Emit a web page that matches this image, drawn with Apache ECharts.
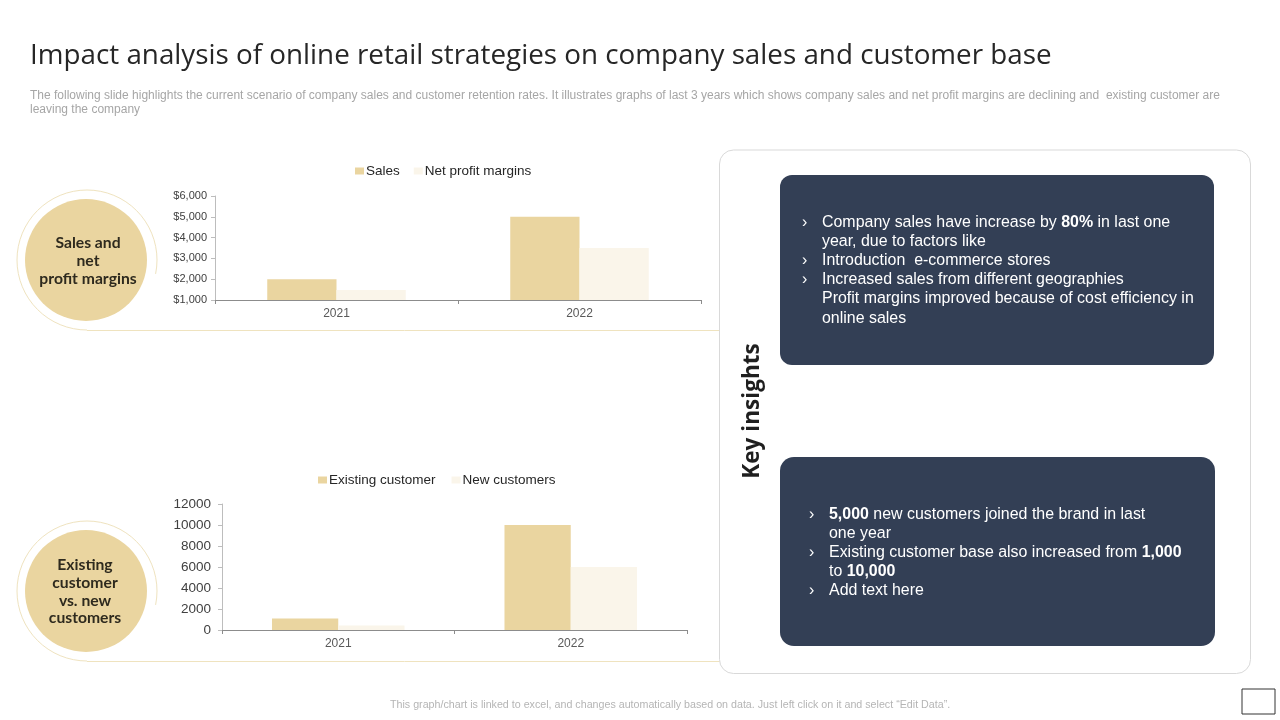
<!DOCTYPE html>
<html><head><meta charset="utf-8">
<script src="https://cdn.jsdelivr.net/npm/echarts@6/dist/echarts.min.js"></script>
<style>html,body{margin:0;padding:0;background:#fff}#c{width:1280px;height:720px}</style>
</head><body><div id="c"></div>
<script>
const years = ['2021', '2022'];
const sales = [2000, 5000];
const netProfit = [1480, 3500];
const existingCustomers = [1100, 10000];
const newCustomers = [430, 6000];

const titleText = 'Impact analysis of online retail strategies on company sales and customer base';
const introLines = [
  'The following slide highlights the current scenario of company sales and customer retention rates. It illustrates graphs of last 3 years which shows company sales and net profit margins are declining and  existing customer are',
  'leaving the company'
];
const footerText = 'This graph/chart is linked to excel, and changes automatically based on data. Just left click on it and select \u201CEdit Data\u201D.';
const label1 = ['Sales and', 'net', 'profit margins'];
const label2 = ['Existing', 'customer', 'vs. new', 'customers'];
const insights1 = [
  ['\u203A', 'Company sales have increase by {b|80%} in last one', 223],
  ['', 'year, due to factors like', 242],
  ['\u203A', 'Introduction  e-commerce stores', 261],
  ['\u203A', 'Increased sales from different geographies', 280],
  ['', 'Profit margins improved because of cost efficiency in', 299],
  ['', 'online sales', 319]
];
const insights2 = [
  ['\u203A', '{b|5,000} new customers joined the brand in last', 515],
  ['', 'one year', 534],
  ['\u203A', 'Existing customer base also increased from {b|1,000}', 553],
  ['', 'to {b|10,000}', 572],
  ['\u203A', 'Add text here', 591]
];

const GOLD = '#ead5a0', PALE = '#faf5ea', LINE = '#efe3bf', NAVY = '#333f55';
const SANS = '"Liberation Sans", Arial, sans-serif';
const HEAD = 'Lato, "Open Sans", sans-serif';

function txt(x, y, text, fontSize, fill, extra) {
  return { type: 'text', x: x, y: y, z: 10, silent: true,
    style: Object.assign({ text: text, fontSize: fontSize, fill: fill, fontFamily: SANS,
      align: 'left', verticalAlign: 'middle' }, extra || {}) };
}
function badge(cy, cx, lines, ys) {
  const out = [
    { type: 'arc', z: 1, silent: true, shape: { cx: 87, cy: cy, r: 70, startAngle: Math.PI / 2, endAngle: 0.2, clockwise: true },
      style: { fill: null, stroke: LINE, lineWidth: 1 } },
    { type: 'line', z: 1, silent: true, shape: { x1: 87, y1: cy + 70.5, x2: 722, y2: cy + 70.5 }, style: { stroke: LINE, lineWidth: 1 } },
    { type: 'circle', z: 2, silent: true, shape: { cx: 86, cy: cy, r: 61 }, style: { fill: GOLD } }
  ];
  lines.forEach((l, i) => out.push(txt(cx, ys[i], l, 15.7, '#2e2a1e',
    { align: 'center', fontFamily: HEAD, fontWeight: 'bold' })));
  return out;
}
function insightLines(rows, xBullet, xText, size) {
  const out = [];
  rows.forEach(r => {
    if (r[0]) out.push(txt(xBullet, r[2], r[0], size, '#ffffff'));
    out.push(txt(xText, r[2], r[1], size, '#ffffff',
      { rich: { b: { fontWeight: 'bold', fontSize: size, fill: '#ffffff', fontFamily: SANS } } }));
  });
  return out;
}

const graphicEls = [].concat(
  [txt(30, 56, titleText, 27.8, '#262626', { fontFamily: '"Open Sans", sans-serif' }),
   txt(30, 96, introLines[0], 12, '#a6a6a6'),
   txt(30, 110, introLines[1], 12, '#a6a6a6'),
   txt(390, 705, footerText, 10.7, '#b5b5b5')],
  badge(260, 88, label1, [243, 261, 279]),
  badge(591, 85, label2, [565, 583, 601, 618]),
  [{ type: 'rect', z: 3, silent: true, shape: { x: 719.5, y: 150, width: 531, height: 523.5, r: 14 },
     style: { fill: '#fff', stroke: '#d9d9d9', lineWidth: 1 } },
   { type: 'rect', z: 4, silent: true, shape: { x: 780, y: 175, width: 434, height: 190, r: 12 }, style: { fill: NAVY } },
   { type: 'rect', z: 4, silent: true, shape: { x: 780, y: 457, width: 435, height: 189, r: 14 }, style: { fill: NAVY } },
   { type: 'text', z: 10, silent: true, x: 753, y: 411, rotation: Math.PI / 2,
     style: { text: 'Key insights', fontSize: 22.6, fontWeight: 'bold', fill: '#1f1f1f', fontFamily: '"Open Sans", sans-serif',
       align: 'center', verticalAlign: 'middle' } },
   { type: 'rect', z: 10, silent: true, shape: { x: 1242, y: 689, width: 33, height: 25 },
     style: { fill: '#fff', stroke: '#333', lineWidth: 1 } }],
  insightLines(insights1, 802, 822, 15.95),
  insightLines(insights2, 809, 829, 15.95)
);

function xAxis(i, size) {
  return { type: 'category', gridIndex: i, data: years,
    axisLine: { lineStyle: { color: '#8c8c8c' } },
    axisTick: { show: true, length: 4, alignWithLabel: false, lineStyle: { color: '#8c8c8c' } },
    axisLabel: { color: '#595959', fontSize: size, fontFamily: SANS, margin: 8 } };
}
function yAxis(i, min, max, step, size, fmt, color, margin) {
  return { type: 'value', gridIndex: i, min: min, max: max, interval: step,
    axisLine: { show: true, lineStyle: { color: '#bdbdbd' } },
    axisTick: { show: true, length: 4, lineStyle: { color: '#bdbdbd' } },
    splitLine: { show: false },
    axisLabel: { color: color, fontSize: size, fontFamily: SANS, margin: margin, padding: [2, 0, 0, 0], formatter: fmt } };
}
function bar(name, data, color, i, cat) {
  return { type: 'bar', name: name, data: data, xAxisIndex: i, yAxisIndex: i,
    itemStyle: { color: color }, barGap: 0, barCategoryGap: cat, silent: true, animation: false };
}
const legendBase = { itemWidth: 9, itemHeight: 7, icon: 'rect', selectedMode: false,
  textStyle: { color: '#262626', fontSize: 13.5, fontFamily: SANS, padding: [0, 0, 0, -3] } };

const chart = echarts.init(document.getElementById('c'), null, { renderer: 'canvas' });
chart.setOption({
  animation: false,
  backgroundColor: '#fff',
  graphic: { elements: graphicEls },
  legend: [
    Object.assign({}, legendBase, { left: 350, top: 159, itemGap: 14, data: ['Sales', 'Net profit margins'] }),
    Object.assign({}, legendBase, { left: 313, top: 468, itemGap: 16, data: ['Existing customer', 'New customers'] })
  ],
  grid: [
    { left: 215, width: 486, top: 196, height: 104, containLabel: false },
    { left: 222, width: 465, top: 504, height: 126, containLabel: false }
  ],
  xAxis: [xAxis(0, 12), xAxis(1, 12)],
  yAxis: [
    yAxis(0, 1000, 6000, 1000, 11, v => '$' + v.toLocaleString('en-US'), '#404040', 8),
    yAxis(1, 0, 12000, 2000, 13.5, v => String(v), '#404040', 11)
  ],
  series: [
    bar('Sales', sales, GOLD, 0, '43%'),
    bar('Net profit margins', netProfit, PALE, 0, '43%'),
    bar('Existing customer', existingCustomers, GOLD, 1, '43%'),
    bar('New customers', newCustomers, PALE, 1, '43%')
  ]
});
</script></body></html>
